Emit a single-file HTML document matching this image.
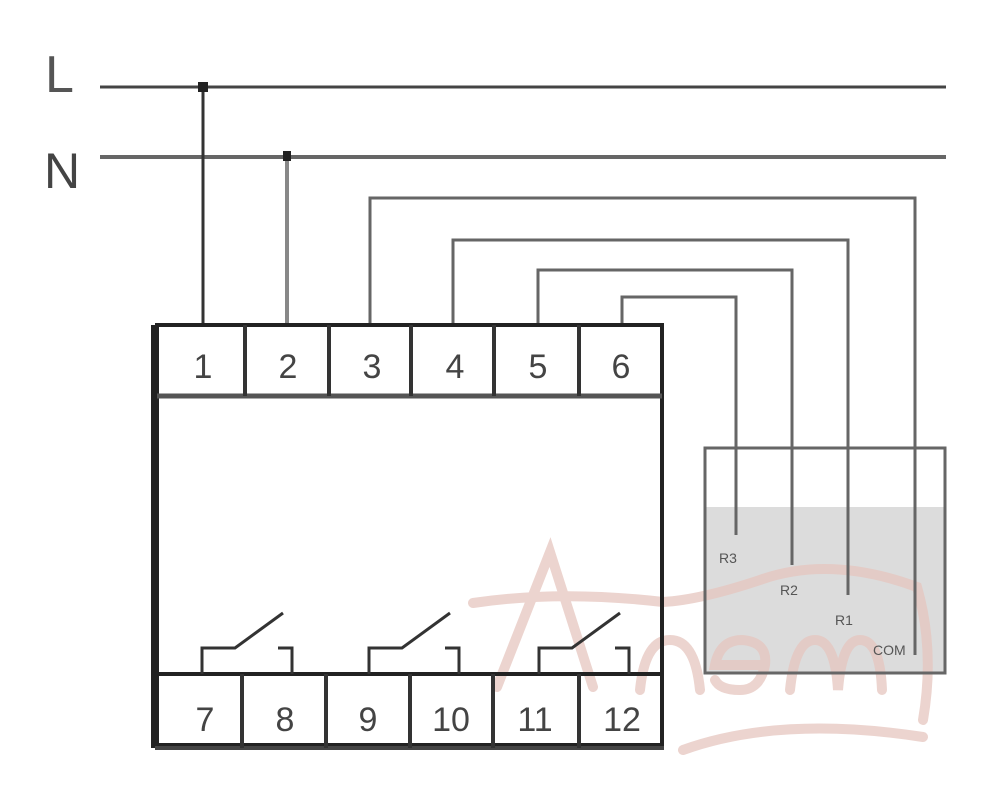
<!DOCTYPE html>
<html><head><style>body{margin:0;background:#fff}svg{display:block}</style></head>
<body>
<svg width="1000" height="800" xmlns="http://www.w3.org/2000/svg" font-family="Liberation Sans, Arial, sans-serif">
<rect width="1000" height="800" fill="#fff"/>
<!-- right box -->
<rect x="705" y="507" width="240" height="166" fill="#dcdcdc"/>
<!-- watermark -->
<g fill="none" stroke="#e6c6bf" stroke-width="10" stroke-linecap="round" opacity="0.75">
<path d="M497 687 L550 552 L593 687"/>
<path d="M473 603 Q560 590 663 602 Q700 600 760 580 Q830 555 917 587 Q935 650 923 720"/>
<path d="M683 750 Q780 715 923 737"/>
<path d="M640 690 Q645 640 670 640 Q695 640 700 690"/>
<path d="M765 665 L715 665 Q720 640 742 640 Q768 642 765 665 Q760 690 740 690 Q720 690 715 680"/>
<path d="M790 690 Q795 640 815 640 Q835 640 838 690 Q842 640 860 640 Q880 640 882 690"/>
</g>
<rect x="705" y="448" width="240" height="225" fill="none" stroke="#666" stroke-width="3"/>
<!-- text labels -->
<text x="45" y="92" font-size="52" fill="#555">L</text>
<text x="44" y="188" font-size="50" fill="#444">N</text>
<!-- mains -->
<line x1="100" y1="87" x2="946" y2="87" stroke="#444" stroke-width="3"/>
<line x1="100" y1="157" x2="946" y2="157" stroke="#666" stroke-width="4"/>
<line x1="203" y1="87" x2="203" y2="323" stroke="#333" stroke-width="3"/>
<line x1="287" y1="157" x2="287" y2="323" stroke="#888" stroke-width="4"/>
<rect x="198" y="82" width="10" height="10" fill="#222"/>
<rect x="283" y="151" width="8" height="10" fill="#222"/>
<!-- control wires -->
<g fill="none" stroke="#666" stroke-width="3">
<path d="M370 323 V198 H915 V655"/>
<path d="M453 323 V240 H848 V595"/>
<path d="M538 323 V270 H792 V565"/>
<path d="M622 323 V297 H736 V535"/>
</g>
<!-- device -->
<rect x="157" y="325" width="505" height="420" fill="none" stroke="#222" stroke-width="4"/>
<line x1="155" y1="325" x2="155" y2="748" stroke="#222" stroke-width="8"/>
<line x1="157" y1="396" x2="662" y2="396" stroke="#555" stroke-width="5"/>
<line x1="157" y1="674" x2="662" y2="674" stroke="#222" stroke-width="4"/>
<line x1="155" y1="748" x2="664" y2="748" stroke="#444" stroke-width="4"/>
<g stroke="#333" stroke-width="4">
<line x1="245" y1="325" x2="245" y2="396"/><line x1="329" y1="325" x2="329" y2="396"/>
<line x1="411" y1="325" x2="411" y2="396"/><line x1="494" y1="325" x2="494" y2="396"/>
<line x1="579" y1="325" x2="579" y2="396"/>
<line x1="242" y1="674" x2="242" y2="748"/><line x1="326" y1="674" x2="326" y2="748"/>
<line x1="410" y1="674" x2="410" y2="748"/><line x1="493" y1="674" x2="493" y2="748"/>
<line x1="579" y1="674" x2="579" y2="748"/>
</g>
<g font-size="34" fill="#444" text-anchor="middle">
<text x="203" y="378">1</text><text x="288" y="378">2</text><text x="372" y="378">3</text>
<text x="455" y="378">4</text><text x="538" y="378">5</text><text x="621" y="378">6</text>
<text x="205" y="731">7</text><text x="285" y="731">8</text><text x="368" y="731">9</text>
<text x="451" y="731">10</text><text x="535" y="731">11</text><text x="622" y="731">12</text>
</g>
<!-- switches -->
<g fill="none" stroke="#333" stroke-width="3">
<path d="M202 674 V648 H235 L283 613 M278 648 H292 V674"/>
<path d="M369 674 V648 H402 L450 613 M445 648 H459 V674"/>
<path d="M539 674 V648 H572 L620 613 M615 648 H629 V674"/>
</g>
<g font-size="14" fill="#555">
<text x="719" y="563">R3</text><text x="780" y="595">R2</text>
<text x="835" y="625">R1</text><text x="873" y="655">COM</text>
</g>
</svg>
</body></html>
